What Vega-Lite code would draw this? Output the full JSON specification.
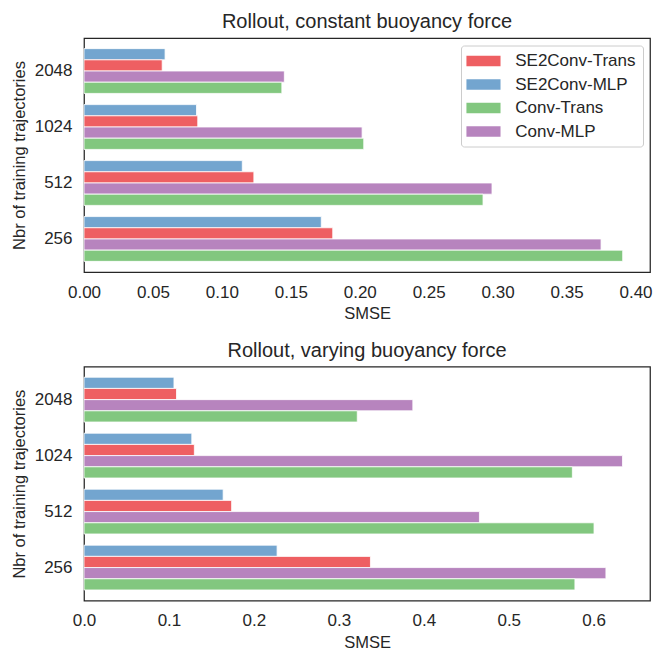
{
  "$schema": "https://vega.github.io/schema/vega-lite/v6.json",
  "description": "Rollout SMSE by number of training trajectories, constant vs varying buoyancy force",
  "padding": {"left": 10, "top": 11, "right": 5, "bottom": 5},
  "datasets": {
    "constant": [
      {"n": "2048", "model": "SE2Conv-MLP", "smse": 0.0588},
      {"n": "2048", "model": "SE2Conv-Trans", "smse": 0.0567},
      {"n": "2048", "model": "Conv-MLP", "smse": 0.1453},
      {"n": "2048", "model": "Conv-Trans", "smse": 0.1435},
      {"n": "1024", "model": "SE2Conv-MLP", "smse": 0.0816},
      {"n": "1024", "model": "SE2Conv-Trans", "smse": 0.0825},
      {"n": "1024", "model": "Conv-MLP", "smse": 0.2017},
      {"n": "1024", "model": "Conv-Trans", "smse": 0.2029},
      {"n": "512", "model": "SE2Conv-MLP", "smse": 0.1148},
      {"n": "512", "model": "SE2Conv-Trans", "smse": 0.1232},
      {"n": "512", "model": "Conv-MLP", "smse": 0.2959},
      {"n": "512", "model": "Conv-Trans", "smse": 0.2894},
      {"n": "256", "model": "SE2Conv-MLP", "smse": 0.1721},
      {"n": "256", "model": "SE2Conv-Trans", "smse": 0.1804},
      {"n": "256", "model": "Conv-MLP", "smse": 0.375},
      {"n": "256", "model": "Conv-Trans", "smse": 0.3907}
    ],
    "varying": [
      {"n": "2048", "model": "SE2Conv-MLP", "smse": 0.1059},
      {"n": "2048", "model": "SE2Conv-Trans", "smse": 0.1089},
      {"n": "2048", "model": "Conv-MLP", "smse": 0.3871},
      {"n": "2048", "model": "Conv-Trans", "smse": 0.3217},
      {"n": "1024", "model": "SE2Conv-MLP", "smse": 0.1269},
      {"n": "1024", "model": "SE2Conv-Trans", "smse": 0.1299},
      {"n": "1024", "model": "Conv-MLP", "smse": 0.6339},
      {"n": "1024", "model": "Conv-Trans", "smse": 0.5749},
      {"n": "512", "model": "SE2Conv-MLP", "smse": 0.1638},
      {"n": "512", "model": "SE2Conv-Trans", "smse": 0.1738},
      {"n": "512", "model": "Conv-MLP", "smse": 0.4655},
      {"n": "512", "model": "Conv-Trans", "smse": 0.6004},
      {"n": "256", "model": "SE2Conv-MLP", "smse": 0.2273},
      {"n": "256", "model": "SE2Conv-Trans", "smse": 0.3372},
      {"n": "256", "model": "Conv-MLP", "smse": 0.6144},
      {"n": "256", "model": "Conv-Trans", "smse": 0.5779}
    ]
  },
  "spacing": 16.6,
  "resolve": {"legend": {"color": "independent"}, "scale": {"x": "independent"}},
  "vconcat": [
    {
      "data": {"name": "constant"},
      "width": 566,
      "height": 234,
      "title": {"text": "Rollout, constant buoyancy force"},
      "mark": {"type": "bar", "stroke": "white", "strokeWidth": 0.8},
      "encoding": {
        "y": {
          "field": "n", "type": "nominal", "sort": ["2048", "1024", "512", "256"],
          "scale": {"paddingInner": 0.2, "paddingOuter": 0.19},
          "title": "Nbr of training trajectories"
        },
        "yOffset": {
          "field": "model", "type": "nominal",
          "sort": ["SE2Conv-MLP", "SE2Conv-Trans", "Conv-MLP", "Conv-Trans"],
          "scale": {"paddingInner": 0, "paddingOuter": 0}
        },
        "x": {
          "field": "smse", "type": "quantitative",
          "scale": {"domain": [0, 0.4105], "nice": false},
          "axis": {"values": [0, 0.05, 0.1, 0.15, 0.2, 0.25, 0.3, 0.35, 0.4], "format": ".2f"},
          "title": "SMSE"
        },
        "color": {
          "field": "model", "type": "nominal",
          "scale": {
            "domain": ["SE2Conv-Trans", "SE2Conv-MLP", "Conv-Trans", "Conv-MLP"],
            "range": ["#ee5f62", "#73a5cf", "#82c77f", "#b784be"]
          },
          "legend": {
            "orient": "none", "legendX": 377, "legendY": 7.5, "title": null,
            "symbolType": "M-1.83,-0.97H4.37V0.97H-1.83Z", "symbolSize": 121,
            "symbolStrokeWidth": 0, "symbolOpacity": 1,
            "labelFontSize": 17, "labelOffset": 30.2, "rowPadding": 5.5,
            "padding": 7, "strokeColor": "#cccccc", "fillColor": "white", "cornerRadius": 3
          }
        }
      }
    },
    {
      "data": {"name": "varying"},
      "width": 566,
      "height": 234,
      "title": {"text": "Rollout, varying buoyancy force"},
      "mark": {"type": "bar", "stroke": "white", "strokeWidth": 0.8},
      "encoding": {
        "y": {
          "field": "n", "type": "nominal", "sort": ["2048", "1024", "512", "256"],
          "scale": {"paddingInner": 0.2, "paddingOuter": 0.19},
          "title": "Nbr of training trajectories"
        },
        "yOffset": {
          "field": "model", "type": "nominal",
          "sort": ["SE2Conv-MLP", "SE2Conv-Trans", "Conv-MLP", "Conv-Trans"],
          "scale": {"paddingInner": 0, "paddingOuter": 0}
        },
        "x": {
          "field": "smse", "type": "quantitative",
          "scale": {"domain": [0, 0.6663], "nice": false},
          "axis": {"values": [0, 0.1, 0.2, 0.3, 0.4, 0.5, 0.6], "format": ".1f"},
          "title": "SMSE"
        },
        "color": {
          "field": "model", "type": "nominal",
          "scale": {
            "domain": ["SE2Conv-Trans", "SE2Conv-MLP", "Conv-Trans", "Conv-MLP"],
            "range": ["#ee5f62", "#73a5cf", "#82c77f", "#b784be"]
          },
          "legend": null
        }
      }
    }
  ],
  "config": {
    "font": "Liberation Sans",
    "view": {"stroke": "#262626", "strokeWidth": 1.25},
    "title": {"fontSize": 20, "fontWeight": "normal", "color": "#262626", "baseline": "alphabetic", "offset": 6},
    "axis": {
      "grid": false, "ticks": false, "domain": false, "labelFlush": false,
      "labelFontSize": 17, "labelColor": "#262626",
      "titleFontSize": 16.5, "titleFontWeight": "normal", "titleColor": "#262626"
    },
    "axisX": {"labelPadding": 12, "titleBaseline": "alphabetic", "titleY": 46.6},
    "axisY": {"labelPadding": 12, "titleBaseline": "middle", "titleX": -65},
    "legend": {"labelColor": "#262626", "labelFont": "Liberation Sans"}
  }
}
